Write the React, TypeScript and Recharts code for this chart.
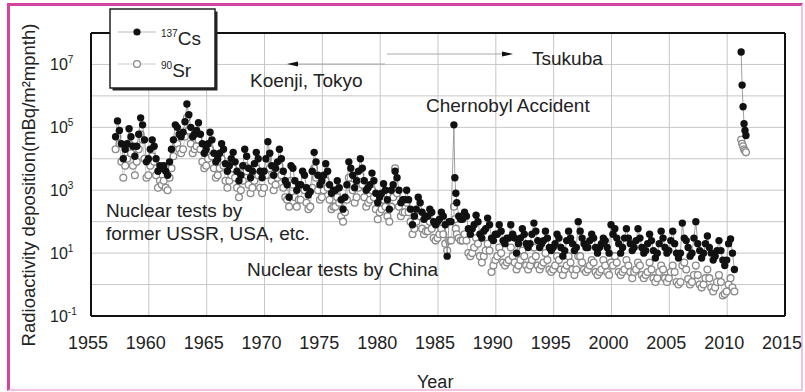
import React from "react";
import {
  ScatterChart,
  Scatter,
  XAxis,
  YAxis,
  CartesianGrid,
  ReferenceLine,
} from "recharts";

// sampling: every second month of each year
const years = [
  1957, 1958, 1959, 1960, 1961, 1962, 1963, 1964, 1965, 1966, 1967, 1968, 1969,
  1970, 1971, 1972, 1973, 1974, 1975, 1976, 1977, 1978, 1979, 1980, 1981, 1982,
  1983, 1984, 1985, 1986, 1987, 1988, 1989, 1990, 1991, 1992, 1993, 1994, 1995,
  1996, 1997, 1998, 1999, 2000, 2001, 2002, 2003, 2004, 2005, 2006, 2007, 2008,
  2009, 2010,
];
const months = [2, 4, 6, 8, 10, 12];

// 137Cs monthly deposition (mBq/m2/month), one row per year
const cs137: (number | null)[][] = [
  [5e4, 1.6e5, 8e4, 3e4, 1e4, 2e4],
  [3e4, 9e4, 5e4, 2.5e4, 1.2e4, 2.5e4],
  [6e4, 2e5, 1.2e5, 4e4, 8e3, 1e4],
  [2e4, 4e4, 2.5e4, 1e4, 4e3, 6e3],
  [5e3, 6e3, 4e3, 3e3, 8e3, 2e4],
  [4e4, 1.2e5, 1e5, 6e4, 5e4, 7e4],
  [1.5e5, 5.5e5, 2.5e5, 1e5, 5e4, 6e4],
  [8e4, 1.4e5, 6e4, 3e4, 1.5e4, 2e4],
  [3e4, 7e4, 4e4, 1.5e4, 8e3, 1e4],
  [1.5e4, 3e4, 2e4, 7e3, 4e3, 6e3],
  [1e4, 1.6e4, 8e3, 4e3, 2e3, 3e3],
  [6e3, 2e4, 1.2e4, 5e3, 2.5e3, 4e3],
  [7e3, 1.6e4, 1e4, 4e3, 2.5e3, 4e3],
  [1e4, 3.5e4, 1.5e4, 6e3, 3e3, 5e3],
  [8e3, 2e4, 1e4, 4e3, 2e3, 1.5e3],
  [600, 6e3, 5e3, 2e3, 1e3, 1.5e3],
  [1.5e3, 4e3, 3e3, 1.2e3, 700, 900],
  [4e3, 1.6e4, 8e3, 3e3, 1.5e3, 2e3],
  [3e3, 7e3, 4e3, 1.5e3, 800, 1e3],
  [1e3, 2e3, 1.2e3, 500, 250, 600],
  [1.5e3, 8e3, 5e3, 3e3, 1.2e3, 2e3],
  [4e3, 1e4, 5e3, 2e3, 1e3, 1.2e3],
  [1.5e3, 3.5e3, 2e3, 800, 400, 600],
  [800, 1.6e3, 1e3, 500, 250, 1e3],
  [1.5e3, 4e3, 2.5e3, 1e3, 400, 500],
  [500, 1e3, 500, 250, 80, 150],
  [250, 600, 400, 200, 120, 150],
  [150, 250, 200, 100, 80, 100],
  [120, 200, 150, 80, 8, 100],
  [100, null, null, null, 150, 120],
  [120, 200, 150, 60, 40, 60],
  [80, 160, 100, 40, 30, 50],
  [60, 130, 80, 30, 25, 40],
  [40, 80, 50, 25, 20, 30],
  [30, 80, 40, 30, 10, 20],
  [30, 60, 40, 20, 15, 20],
  [40, 90, 50, 25, 15, 20],
  [25, 50, 30, 15, 12, 15],
  [20, 40, 30, 15, 8, 12],
  [25, 50, 30, 20, 12, 15],
  [100, 50, 30, 20, 15, 15],
  [25, 40, 30, 15, 10, 15],
  [20, 30, 25, 15, 10, 80],
  [40, 60, 30, 20, 10, 15],
  [30, 60, 30, 20, 12, 15],
  [25, 60, 30, 15, 10, 12],
  [20, 40, 25, 12, 7, 10],
  [20, 50, 30, 15, 10, 12],
  [25, 50, 20, 10, 7, 10],
  [90, 30, 25, 15, 8, 10],
  [30, 100, 20, 12, 7, 10],
  [20, 35, 15, 10, 6, 8],
  [12, 25, 12, 6, 4, 6],
  [20, 28, 10, 3, null, null],
];

// 90Sr monthly deposition (mBq/m2/month), one row per year
const sr90: (number | null)[][] = [
  [2e4, 5e4, 3e4, 8e3, 2.5e3, 6e3],
  [1e4, 3e4, 1.5e4, 6e3, 3e3, 8e3],
  [2e4, 6e4, 4e4, 1e4, 2.5e3, 3e3],
  [6e3, 1.2e4, 8e3, 3e3, 1.2e3, 2e3],
  [1.5e3, 2e3, 1.2e3, 1e3, 2.5e3, 5e3],
  [1.2e4, 4e4, 3e4, 2e4, 1.5e4, 2e4],
  [5e4, 2e5, 8e4, 3e4, 1.5e4, 2e4],
  [2.5e4, 4e4, 2e4, 8e3, 5e3, 6e3],
  [1e4, 2e4, 1.2e4, 5e3, 2.5e3, 3e3],
  [5e3, 1e4, 6e3, 2e3, 1.2e3, 2e3],
  [3e3, 5e3, 2.5e3, 1.2e3, 600, 1e3],
  [2e3, 6e3, 4e3, 1.5e3, 800, 1.2e3],
  [2e3, 5e3, 3e3, 1.2e3, 800, 1.2e3],
  [3e3, 1e4, 5e3, 2e3, 1e3, 1.5e3],
  [2.5e3, 6e3, 3e3, 1.2e3, 600, 500],
  [300, 2e3, 1.5e3, 600, 300, 500],
  [500, 1.2e3, 1e3, 400, 250, 300],
  [1.2e3, 5e3, 2.5e3, 1e3, 500, 600],
  [1e3, 2e3, 1.2e3, 500, 250, 300],
  [300, 600, 400, 150, 100, 200],
  [500, 2.5e3, 1.5e3, 1e3, 400, 600],
  [1.2e3, 3e3, 1.5e3, 600, 300, 400],
  [500, 1e3, 600, 250, 120, 200],
  [250, 500, 300, 150, 100, 300],
  [600, 5e3, 800, 300, 150, 200],
  [200, 400, 200, 100, 40, 60],
  [100, 200, 150, 60, 40, 50],
  [50, 100, 60, 30, 25, 30],
  [40, 60, 40, 20, 12, 25],
  [25, null, null, null, 30, 25],
  [25, 40, 25, 10, 8, 10],
  [15, 30, 20, 8, 5, 8],
  [12, 20, 12, 2.5, 4, 6],
  [8, 15, 10, 5, 4, 5],
  [6, 15, 8, 5, 3, 4],
  [6, 12, 8, 4, 3, 4],
  [6, 15, 8, 4, 3, 4],
  [5, 10, 6, 3, 2.5, 3],
  [4, 8, 6, 3, 2, 3],
  [4, 8, 5, 3, 2, 3],
  [8, 8, 5, 3, 2.5, 3],
  [4, 6, 5, 2.5, 2, 2.5],
  [3, 6, 4, 2.5, 2, 5],
  [4, 8, 5, 2.5, 2, 2.5],
  [3, 6, 4, 2.5, 1.6, 2.5],
  [3, 5, 4, 2, 1.6, 2],
  [2.5, 5, 3, 1.6, 1.2, 1.6],
  [2.5, 4, 3, 1.6, 1.2, 1.6],
  [2.5, 4, 2.5, 1.2, 1, 1.2],
  [4, 5, 3, 1.5, 1, 1.2],
  [2, 4, 2, 1, 0.8, 1],
  [1.6, 3, 1.6, 0.8, 0.6, 0.8],
  [1.2, 2, 1.2, 0.45, 0.5, 0.6],
  [1, 1.6, 0.8, 0.6, null, null],
];

// Chernobyl, 1986 (monthly)
const chernobylYear = 1986;
const chernobylMonths = [5, 6, 7, 8];
const chernobylCs = [1.2e5, 2.5e3, 800, 400];
const chernobylSr = [300, 120, 60, 40];

// Fukushima, 2011 (monthly)
const fukushimaYear = 2011;
const fukushimaMonths = [3, 4, 5, 6, 7, 8];
const fukushimaCs = [2.5e7, 2.2e6, 4.5e5, 1.3e5, 8e4, 5.5e4];
const fukushimaSr = [4e4, 3e4, 2.5e4, 2e4, 1.8e4, 1.6e4];

const xTicks = [1955, 1960, 1965, 1970, 1975, 1980, 1985, 1990, 1995, 2000, 2005, 2010, 2015];
const yTicks = [0.1, 1, 10, 100, 1e3, 1e4, 1e5, 1e6, 1e7, 1e8];

const FONT = "'Liberation Sans', Arial, Helvetica, sans-serif";

type Pt = { x: number; y: number };

const toX = (year: number, month: number) => year + (month - 0.5) / 12;

function buildSeries(
  rows: (number | null)[][],
  extraYear: number,
  extraMonths: number[],
  extraValues: number[]
): Pt[] {
  const pts: Pt[] = [];
  rows.forEach((row, i) =>
    row.forEach((v, j) => {
      if (v != null) pts.push({ x: toX(years[i], months[j]), y: v });
    })
  );
  extraMonths.forEach((m, k) => pts.push({ x: toX(extraYear, m), y: extraValues[k] }));
  return pts.sort((a, b) => a.x - b.x);
}

const csPoints = buildSeries(cs137, chernobylYear, chernobylMonths, chernobylCs);
const srPoints = buildSeries(sr90, chernobylYear, chernobylMonths, chernobylSr);
const fukuCs = fukushimaMonths.map((m, i) => ({ x: toX(fukushimaYear, m), y: fukushimaCs[i] }));
const fukuSr = fukushimaMonths.map((m, i) => ({ x: toX(fukushimaYear, m), y: fukushimaSr[i] }));

const CsDot = (p: any) => <circle cx={p.cx} cy={p.cy} r={3.7} fill="#111" />;
const SrDot = (p: any) => (
  <circle cx={p.cx} cy={p.cy} r={3.4} fill="#fff" stroke="#8a8a8a" strokeWidth={1.3} />
);

const YTick = (props: any) => {
  const { y, payload } = props;
  const e = Math.round(Math.log10(payload.value));
  if (e % 2 === 0) return <g />;
  return (
    <text x={50} y={y + 5.5} fontSize={16} fill="#222" fontFamily={FONT}>
      10
      <tspan dy={-7} fontSize={10}>
        {e}
      </tspan>
    </text>
  );
};

const XTick = (props: any) => {
  const { x, payload } = props;
  return (
    <text x={x - 3} y={349} textAnchor="middle" fontSize={18} fill="#222" fontFamily={FONT}>
      {payload.value}
    </text>
  );
};

const Annotations = () => (
  <svg
    width={805}
    height={392}
    style={{ position: "absolute", left: 0, top: 0, pointerEvents: "none" }}
    fontFamily={FONT}
  >
    {/* legend */}
    <rect x={112.5} y={11.5} width={105} height={79} fill="#222" />
    <rect x={110} y={9} width={105} height={79} fill="#fff" stroke="#222" strokeWidth={1.5} />
    <line x1={118} y1={32} x2={156} y2={32} stroke="#bbb" strokeWidth={1} />
    <circle cx={137} cy={32} r={3.6} fill="#111" />
    <text x={161} y={45} fontSize={19} fill="#222">
      <tspan fontSize={10} dy={-8}>137</tspan>
      <tspan dy={8}>Cs</tspan>
    </text>
    <line x1={118} y1={64} x2={156} y2={64} stroke="#ccc" strokeWidth={1} />
    <circle cx={137} cy={64} r={3.4} fill="#fff" stroke="#8a8a8a" strokeWidth={1.3} />
    <text x={161} y={77} fontSize={19} fill="#222">
      <tspan fontSize={10} dy={-8}>90</tspan>
      <tspan dy={8}>Sr</tspan>
    </text>

    {/* site arrows */}
    <line x1={296} y1={64} x2={385} y2={64} stroke="#aaa" strokeWidth={1} />
    <polygon points="287,64 298,61.5 298,66.5" fill="#111" />
    <line x1={387} y1={54} x2={503} y2={54} stroke="#aaa" strokeWidth={1} />
    <polygon points="513,54 502,51.5 502,56.5" fill="#111" />

    <text x={250} y={87} fontSize={19} fill="#222">Koenji, Tokyo</text>
    <text x={532} y={65} fontSize={19} fill="#222">Tsukuba</text>
    <text x={426} y={112} fontSize={19} fill="#222">Chernobyl Accident</text>
    <text x={106} y={217} fontSize={19} fill="#222">Nuclear tests by</text>
    <text x={106} y={240} fontSize={19} fill="#222">former USSR, USA, etc.</text>
    <text x={247} y={276} fontSize={19} fill="#222">Nuclear tests by China</text>
    <text x={417} y={388} fontSize={18} fill="#222">Year</text>
    <text
      transform="translate(34.5,185) rotate(-90)"
      textAnchor="middle"
      fontSize={18.5}
      fill="#222"
    >
      Radioactivity deposition(mBq/m²mpnth)
    </text>
  </svg>
);

export default function App() {
  return (
    <div style={{ position: "absolute", left: 0, top: 0, width: 805, height: 392, background: "#fff" }}>
      <div
        style={{
          position: "absolute",
          left: 7,
          top: 3,
          width: 791,
          height: 383,
          borderTop: "3px solid #d4449e",
          borderLeft: "3px solid #d4449e",
          borderRight: "2px solid #f2c2e2",
          borderBottom: "2px solid #f2c2e2",
        }}
      />
      <ScatterChart
        width={805}
        height={392}
        margin={{ top: 33, right: 20, bottom: 46, left: 0 }}
        style={{ position: "absolute", left: 0, top: 0 }}
      >
        <CartesianGrid stroke="#c6c6c6" strokeWidth={1} />
        <XAxis
          type="number"
          dataKey="x"
          domain={[1955, 2015]}
          ticks={xTicks}
          allowDataOverflow
          height={30}
          tickLine={false}
          axisLine={{ stroke: "#111", strokeWidth: 2 }}
          tick={XTick}
        />
        <YAxis
          type="number"
          dataKey="y"
          scale="log"
          domain={[0.1, 1e8]}
          ticks={yTicks}
          allowDataOverflow
          width={91}
          tickLine={false}
          axisLine={{ stroke: "#111", strokeWidth: 2 }}
          tick={YTick}
        />
        <ReferenceLine y={1e8} stroke="#111" strokeWidth={2} />
        <ReferenceLine x={2015} stroke="#111" strokeWidth={2} />
        <Scatter
          data={srPoints}
          line={{ stroke: "#c4c4c4", strokeWidth: 0.8 }}
          shape={SrDot}
          isAnimationActive={false}
        />
        <Scatter
          data={fukuSr}
          line={{ stroke: "#c4c4c4", strokeWidth: 0.8 }}
          shape={SrDot}
          isAnimationActive={false}
        />
        <Scatter
          data={csPoints}
          line={{ stroke: "#888", strokeWidth: 0.8 }}
          shape={CsDot}
          isAnimationActive={false}
        />
        <Scatter
          data={fukuCs}
          line={{ stroke: "#888", strokeWidth: 0.8 }}
          shape={CsDot}
          isAnimationActive={false}
        />
      </ScatterChart>
      <Annotations />
    </div>
  );
}
